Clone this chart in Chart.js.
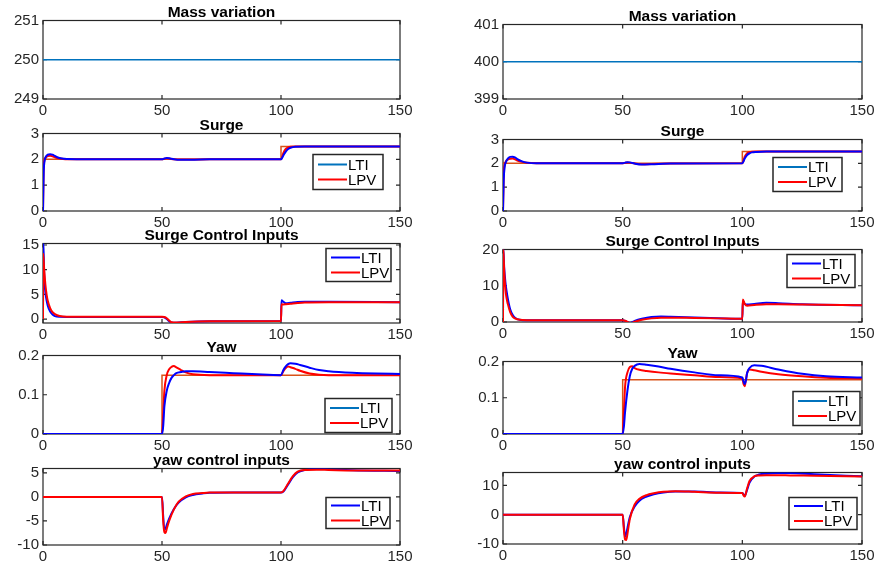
<!DOCTYPE html>
<html><head><meta charset="utf-8">
<script src="https://cdn.jsdelivr.net/npm/chart.js@4.4.1/dist/chart.umd.min.js"></script>
<style>
html,body{margin:0;padding:0;background:#fff;width:876px;height:567px;overflow:hidden;position:relative}
.panel{position:absolute}
</style></head><body>
<script>
// ---- data (time in s) ----
const massT = [0, 150];
const massLeft = [250, 250];
const massRight = [400, 400];

const surgeRefT = [0, 100, 100, 150];
const surgeRefV = [2, 2, 2.5, 2.5];
const yawRefT = [0, 50, 50, 150];
const yawRefV = [0, 0, 0.15, 0.15];

// surge, left column
const sL_t   = [0, 0.3, 0.7, 1.2, 2, 3, 4, 5, 6, 8, 10, 20, 50, 51, 52, 53, 55, 58, 62, 70, 100, 101, 102, 103, 104, 106, 110, 150];
const sL_lti = [0, 1.5, 1.95, 2.1, 2.18, 2.2, 2.18, 2.13, 2.08, 2.03, 2.01, 2.0, 2.0, 2.03, 2.05, 2.04, 2.0, 1.98, 1.98, 2.0, 2.0, 2.15, 2.3, 2.4, 2.45, 2.49, 2.5, 2.5];
const sL_lpv = [0, 1.7, 2.0, 2.08, 2.13, 2.14, 2.12, 2.08, 2.05, 2.02, 2.0, 2.0, 2.0, 2.02, 2.04, 2.03, 2.0, 1.99, 1.99, 2.0, 2.0, 2.25, 2.4, 2.46, 2.49, 2.5, 2.5, 2.5];
// surge, right column
const sR_t   = [0, 0.3, 0.7, 1.2, 2, 3, 4, 5, 6, 8, 10, 14, 50, 51, 52, 53, 55, 58, 62, 70, 100, 101, 102, 103, 104, 106, 110, 150];
const sR_lti = [0, 1.3, 1.85, 2.05, 2.2, 2.27, 2.28, 2.25, 2.18, 2.08, 2.03, 2.0, 2.0, 2.03, 2.05, 2.04, 1.99, 1.95, 1.96, 1.99, 2.0, 2.2, 2.35, 2.42, 2.46, 2.48, 2.5, 2.5];
const sR_lpv = [0, 1.5, 1.95, 2.08, 2.15, 2.19, 2.2, 2.17, 2.12, 2.06, 2.02, 2.0, 2.0, 2.02, 2.04, 2.03, 1.99, 1.96, 1.97, 1.99, 2.0, 2.28, 2.42, 2.47, 2.49, 2.5, 2.5, 2.5];

// surge control inputs
const cL_t   = [0, 0.1, 0.5, 1, 1.5, 2, 3, 4, 5, 7, 10, 50, 51, 52, 53, 54, 56, 60, 70, 100, 100.2, 101, 102, 104, 107, 110, 120, 150];
const cL_lti = [0, 16, 9, 5.5, 3.8, 2.7, 1.5, 0.9, 0.6, 0.45, 0.42, 0.42, 0.35, 0, -0.45, -0.7, -0.75, -0.6, -0.45, -0.4, 3.8, 3.5, 3.2, 3.3, 3.45, 3.5, 3.5, 3.4];
const cL_lpv = [0, 13.2, 10, 7, 5, 3.7, 2.2, 1.4, 1.0, 0.6, 0.45, 0.45, 0.4, 0.15, -0.3, -0.65, -0.72, -0.58, -0.45, -0.4, 3.0, 2.95, 3.0, 3.1, 3.25, 3.35, 3.4, 3.4];
const cR_t   = [0, 0.1, 0.5, 1, 1.5, 2, 3, 4, 5, 7, 10, 50, 51, 52, 53, 55, 58, 62, 66, 70, 80, 90, 100, 100.2, 101, 102, 105, 110, 115, 125, 150];
const cR_lti = [0, 20.5, 15, 11, 8.5, 6.5, 3.5, 2, 1.2, 0.6, 0.45, 0.5, 0.3, 0, -0.3, 0.3, 0.9, 1.4, 1.5, 1.45, 1.25, 1.05, 0.9, 5.8, 5.0, 4.8, 5.0, 5.3, 5.2, 4.9, 4.6];
const cR_lpv = [0, 20.5, 14, 9, 6.5, 5, 2.7, 1.5, 1.0, 0.6, 0.5, 0.5, 0.35, 0.05, -0.3, 0.05, 0.6, 1.0, 1.2, 1.2, 1.1, 1.0, 0.9, 6.2, 5.0, 4.5, 4.7, 4.9, 4.9, 4.8, 4.6];

// yaw
const yL_t   = [0, 50, 50.5, 51, 52, 53, 54, 55, 56, 58, 60, 63, 70, 80, 90, 100, 101, 102, 103, 104, 106, 108, 112, 116, 120, 130, 140, 150];
const yL_lti = [0, 0, 0.02, 0.07, 0.11, 0.13, 0.143, 0.15, 0.155, 0.158, 0.16, 0.16, 0.158, 0.155, 0.152, 0.15, 0.163, 0.172, 0.178, 0.18, 0.179, 0.176, 0.169, 0.163, 0.16, 0.156, 0.154, 0.153];
const yL_lpv = [0, 0, 0.05, 0.11, 0.15, 0.165, 0.171, 0.173, 0.17, 0.163, 0.157, 0.152, 0.15, 0.15, 0.15, 0.15, 0.16, 0.168, 0.172, 0.17, 0.166, 0.161, 0.154, 0.151, 0.15, 0.15, 0.15, 0.15];
const yR_t   = [0, 50, 50.5, 51, 52, 53, 54, 55, 57, 60, 65, 70, 80, 90, 100, 100.5, 101, 101.5, 102, 103, 105, 108, 115, 125, 135, 150];
const yR_lti = [0, 0, 0.02, 0.06, 0.12, 0.16, 0.18, 0.188, 0.193, 0.191, 0.186, 0.18, 0.17, 0.162, 0.156, 0.145, 0.138, 0.148, 0.168, 0.182, 0.19, 0.188, 0.178, 0.166, 0.159, 0.156];
const yR_lpv = [0, 0, 0.06, 0.13, 0.17, 0.185, 0.187, 0.182, 0.177, 0.174, 0.17, 0.167, 0.162, 0.157, 0.153, 0.138, 0.132, 0.15, 0.168, 0.178, 0.176, 0.172, 0.165, 0.159, 0.155, 0.153];

// yaw control inputs
const uL_t   = [0, 50, 50.5, 51, 51.5, 52, 53, 55, 57, 60, 63, 67, 70, 80, 100, 101, 103, 105, 107, 110, 115, 120, 130, 150];
const uL_lti = [0, 0, -4, -6.8, -6.6, -5.8, -4.5, -2.5, -1.2, -0.1, 0.4, 0.7, 0.85, 0.9, 0.9, 1.1, 2.6, 4.1, 5.1, 5.6, 5.85, 5.75, 5.55, 5.4];
const uL_lpv = [0, 0, -5, -7.3, -7.5, -6.6, -5, -2.6, -1.0, 0.1, 0.6, 0.8, 0.9, 0.9, 0.9, 1.2, 2.8, 4.3, 5.25, 5.6, 5.65, 5.6, 5.5, 5.5];
const uR_t   = [0, 50, 50.5, 51, 51.5, 52, 53, 55, 57, 60, 63, 67, 72, 80, 90, 100, 100.5, 101, 102, 103, 105, 107, 110, 115, 120, 130, 150];
const uR_lti = [0, 0, -4, -7.5, -6.5, -4.5, -0.8, 2.8, 4.8, 6.2, 7.0, 7.6, 7.9, 7.9, 7.6, 7.4, 6.9, 6.4, 8.5, 11.0, 13.0, 13.7, 14.0, 14.2, 14.2, 13.8, 13.1];
const uR_lpv = [0, 0, -5, -8.5, -8.6, -6.5, -1.5, 3.5, 5.4, 6.7, 7.3, 7.8, 8.0, 7.8, 7.5, 7.4, 6.6, 6.2, 9.0, 11.5, 13.1, 13.4, 13.5, 13.5, 13.4, 13.3, 13.0];

// ---- drawing ----
const FONT = "'Liberation Sans', Arial, Helvetica, sans-serif";
const BLUE = '#0000ff', RED = '#ff0000', ORANGE = '#d95319', MBLUE = '#0072bd', AX = '#262626';
const YW = 40, XH = 22, TH = 15;

function pts(t, v) { return t.map((x, i) => ({ x: x, y: v[i] })); }
function curve(t, v, c) { return { t: t, v: v, c: c, w: 2, smooth: true }; }
function step(t, v, c) { return { t: t, v: v, c: c, w: 1.5, smooth: false }; }

const panels = [
  { L: 43, R: 400, T: 20, B: 99, title: 'Mass variation', ymin: 249, ymax: 251, step: 1,
    sets: [step(massT, massLeft, MBLUE)] },
  { L: 503, R: 862, T: 24, B: 99, title: 'Mass variation', ymin: 399, ymax: 401, step: 1,
    sets: [step(massT, massRight, MBLUE)] },
  { L: 43, R: 400, T: 133, B: 211, title: 'Surge', ymin: 0, ymax: 3, step: 1,
    sets: [curve(sL_t, sL_lti, BLUE), curve(sL_t, sL_lpv, RED), step(surgeRefT, surgeRefV, ORANGE)],
    leg: { r: 17, t: 21, w: 70, h: 35, c: [MBLUE, RED] } },
  { L: 503, R: 862, T: 139, B: 211, title: 'Surge', ymin: 0, ymax: 3, step: 1,
    sets: [curve(sR_t, sR_lti, BLUE), curve(sR_t, sR_lpv, RED), step(surgeRefT, surgeRefV, ORANGE)],
    leg: { r: 20, t: 18, w: 69, h: 34, c: [MBLUE, RED] } },
  { L: 43, R: 400, T: 243, B: 323, title: 'Surge Control Inputs', ymin: -0.8, ymax: 15.3, step: 5,
    sets: [curve(cL_t, cL_lpv, RED), curve(cL_t, cL_lti, BLUE)],
    leg: { r: 9, t: 5, w: 65, h: 33, c: [BLUE, RED] } },
  { L: 503, R: 862, T: 249, B: 322, title: 'Surge Control Inputs', ymin: 0, ymax: 20, step: 10,
    sets: [curve(cR_t, cR_lpv, RED), curve(cR_t, cR_lti, BLUE)],
    leg: { r: 7, t: 5, w: 68, h: 33, c: [BLUE, RED] } },
  { L: 43, R: 400, T: 355, B: 434, title: 'Yaw', ymin: 0, ymax: 0.2, step: 0.1,
    sets: [curve(yL_t, yL_lti, BLUE), curve(yL_t, yL_lpv, RED), step(yawRefT, yawRefV, ORANGE)],
    leg: { r: 8, t: 43, w: 67, h: 34, c: [MBLUE, RED] } },
  { L: 503, R: 862, T: 361, B: 434, title: 'Yaw', ymin: 0, ymax: 0.2, step: 0.1,
    sets: [curve(yR_t, yR_lti, BLUE), curve(yR_t, yR_lpv, RED), step(yawRefT, yawRefV, ORANGE)],
    leg: { r: 2, t: 30, w: 67, h: 34, c: [MBLUE, RED] } },
  { L: 43, R: 400, T: 468, B: 545, title: 'yaw control inputs', ymin: -10, ymax: 5.9, step: 5,
    sets: [curve(uL_t, uL_lpv, RED), curve(uL_t, uL_lti, BLUE)],
    leg: { r: 10, t: 29, w: 64, h: 31, c: [BLUE, RED] } },
  { L: 503, R: 862, T: 472, B: 544, title: 'yaw control inputs', ymin: -10, ymax: 14.4, step: 10,
    sets: [curve(uR_t, uR_lpv, RED), curve(uR_t, uR_lti, BLUE)],
    leg: { r: 5, t: 25, w: 68, h: 32, c: [BLUE, RED] } }
];

// MATLAB-like box with inward ticks, drawn under the data
const boxPlugin = {
  id: 'box',
  beforeDatasetsDraw(chart) {
    const a = chart.chartArea, ctx = chart.ctx;
    ctx.save();
    ctx.strokeStyle = AX; ctx.lineWidth = 1.2;
    ctx.strokeRect(a.left, a.top, a.right - a.left, a.bottom - a.top);
    ctx.beginPath();
    chart.scales.x.ticks.forEach(tk => {
      const px = chart.scales.x.getPixelForValue(tk.value);
      ctx.moveTo(px, a.bottom); ctx.lineTo(px, a.bottom - 4);
      ctx.moveTo(px, a.top); ctx.lineTo(px, a.top + 4);
    });
    chart.scales.y.ticks.forEach(tk => {
      const py = chart.scales.y.getPixelForValue(tk.value);
      ctx.moveTo(a.left, py); ctx.lineTo(a.left + 4, py);
      ctx.moveTo(a.right, py); ctx.lineTo(a.right - 4, py);
    });
    ctx.stroke();
    ctx.restore();
  }
};

function makeLegend(leg) {
  return {
    id: 'boxLegend',
    afterDatasetsDraw(chart) {
      if (!leg) return;
      const a = chart.chartArea, ctx = chart.ctx;
      const x0 = a.right - leg.r - leg.w, y0 = a.top + leg.t;
      ctx.save();
      ctx.fillStyle = '#fff';
      ctx.fillRect(x0, y0, leg.w, leg.h);
      ctx.strokeStyle = '#262626'; ctx.lineWidth = 1.5;
      ctx.strokeRect(x0, y0, leg.w, leg.h);
      ['LTI', 'LPV'].forEach((lab, i) => {
        const y = y0 + leg.h / 2 + (i === 0 ? -7.5 : 7.5);
        ctx.strokeStyle = leg.c[i]; ctx.lineWidth = 2;
        ctx.beginPath(); ctx.moveTo(x0 + 5, y); ctx.lineTo(x0 + 34, y); ctx.stroke();
        ctx.fillStyle = '#000';
        ctx.font = '15px ' + FONT;
        ctx.textBaseline = 'middle';
        ctx.fillText(lab, x0 + 35, y + 1);
      });
      ctx.restore();
    }
  };
}

panels.forEach(p => {
  const div = document.createElement('div');
  div.className = 'panel';
  div.style.left = (p.L - YW) + 'px';
  div.style.top = (p.T - TH) + 'px';
  div.style.width = (YW + p.R - p.L + YW) + 'px';
  div.style.height = (TH + p.B - p.T + XH) + 'px';
  const cv = document.createElement('canvas');
  div.appendChild(cv);
  document.body.appendChild(div);

  new Chart(cv.getContext('2d'), {
    type: 'line',
    data: {
      datasets: p.sets.map(s => ({
        data: pts(s.t, s.v),
        borderColor: s.c,
        borderWidth: s.w,
        pointRadius: 0,
        fill: false,
        cubicInterpolationMode: s.smooth ? 'monotone' : 'default',
        tension: 0
      }))
    },
    options: {
      responsive: true,
      maintainAspectRatio: false,
      animation: false,
      layout: { padding: 0 },
      plugins: {
        legend: { display: false },
        tooltip: { enabled: false },
        title: {
          display: true, text: p.title, color: '#000', padding: 0,
          font: { family: FONT, size: 15.5, weight: 'bold', lineHeight: 1 }
        }
      },
      scales: {
        x: {
          type: 'linear', min: 0, max: 150,
          grid: { display: false, drawTicks: false }, border: { display: false },
          ticks: { stepSize: 50, color: AX, padding: 3, maxRotation: 0, includeBounds: false,
                   font: { family: FONT, size: 15 } },
          afterFit(s) { s.height = XH; }
        },
        y: {
          type: 'linear', min: p.ymin, max: p.ymax,
          grid: { display: false, drawTicks: false }, border: { display: false },
          ticks: { stepSize: p.step, color: AX, padding: 4, includeBounds: false,
                   font: { family: FONT, size: 15 } },
          afterFit(s) { s.width = YW; }
        },
        // empty right-hand axis, keeps the plot centred under its title
        y2: {
          type: 'linear', position: 'right', min: p.ymin, max: p.ymax,
          grid: { display: false, drawTicks: false }, border: { display: false },
          ticks: { display: false },
          afterFit(s) { s.width = YW; }
        }
      }
    },
    plugins: [boxPlugin, makeLegend(p.leg)]
  });
});
</script>
</body></html>
